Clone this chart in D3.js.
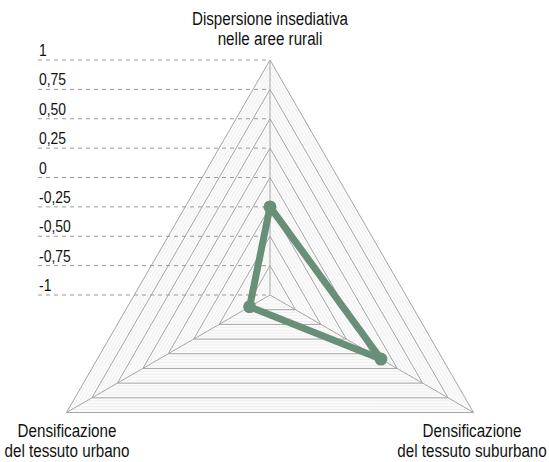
<!DOCTYPE html>
<html>
<head>
<meta charset="utf-8">
<script src="https://cdn.jsdelivr.net/npm/d3@7"></script>
<style>
  body { margin: 0; background: #fff; }
  text { font-family: "Liberation Sans Narrow", "Arial Narrow", "Liberation Sans", Arial, sans-serif; fill: #111; }
</style>
</head>
<body>
<script>
'use strict';

const axes = ['rural', 'suburban', 'urban'];
const axisLabels = [
  ['Dispersione insediativa', 'nelle aree rurali'],
  ['Densificazione', 'del tessuto suburbano'],
  ['Densificazione', 'del tessuto urbano'],
];
const values = [-0.25, 0.09, -0.8];
const levels = [1, 0.75, 0.5, 0.25, 0, -0.25, -0.5, -0.75, -1];
const tickLabels = ['1', '0,75', '0,50', '0,25', '0', '-0,25', '-0,50', '-0,75', '-1'];

const width = 549, height = 462;
const cx = 270, cy = 295, R = 235;
const squeeze = 0.8; // no narrow font installed, so condense the regular one

const svg = d3.select('body').append('svg')
  .attr('width', width)
  .attr('height', height);

const r = d3.scaleLinear().domain([-1, 1]).range([0, R]);
const angle = i => -Math.PI / 2 + i * 2 * Math.PI / axes.length;
const pt = (i, v) => [cx + r(v) * Math.cos(angle(i)), cy + r(v) * Math.sin(angle(i))];
const tri = v => axes.map((a, i) => pt(i, v));
const line = d3.line().curve(d3.curveLinearClosed);

// light fill + fine hatching between levels
svg.append('path').attr('d', line(tri(1))).attr('fill', '#fbfbfb');
const sub = d3.range(-1, 1.0001, 0.05);
svg.append('g').selectAll('path').data(sub).join('path')
  .attr('d', d => line(tri(d)))
  .attr('fill', 'none')
  .attr('stroke', '#e8e8e8')
  .attr('stroke-width', 0.6);

// level triangles
svg.append('g').selectAll('path').data(levels.filter(d => d > -1)).join('path')
  .attr('d', d => line(tri(d)))
  .attr('fill', 'none')
  .attr('stroke', '#a6a6a6')
  .attr('stroke-width', 1);

// spokes
svg.append('g').selectAll('line').data(axes).join('line')
  .attr('x1', cx).attr('y1', cy)
  .attr('x2', (d, i) => pt(i, 1)[0])
  .attr('y2', (d, i) => pt(i, 1)[1])
  .attr('stroke', '#a6a6a6')
  .attr('stroke-width', 1);

// dashed reference lines and tick labels
const ticks = svg.append('g');
ticks.selectAll('line').data(levels).join('line')
  .attr('x1', 38).attr('x2', cx)
  .attr('y1', d => cy - r(d)).attr('y2', d => cy - r(d))
  .attr('stroke', '#9a9a9a')
  .attr('stroke-width', 1)
  .attr('stroke-dasharray', '4,4');
ticks.selectAll('text').data(levels).join('text')
  .attr('transform', d => `translate(39,${cy - r(d) - 4}) scale(0.82,1)`)
  .attr('font-size', 17)
  .text((d, i) => tickLabels[i]);

// data
const dataPts = values.map((v, i) => pt(i, v));
svg.append('path')
  .attr('d', line(dataPts))
  .attr('fill', 'none')
  .attr('stroke', '#6a8f79')
  .attr('stroke-width', 7)
  .attr('stroke-linejoin', 'round');
svg.append('g').selectAll('circle').data(dataPts).join('circle')
  .attr('cx', d => d[0]).attr('cy', d => d[1])
  .attr('r', 6.5)
  .attr('fill', '#6a8f79');

// axis labels
const labelPos = [[270, 25], [472, 437], [67, 437]];
axisLabels.forEach((lines, i) => {
  const t = svg.append('text')
    .attr('transform', `translate(${labelPos[i][0]},${labelPos[i][1]}) scale(${squeeze},1)`)
    .attr('text-anchor', 'middle')
    .attr('font-size', 19);
  lines.forEach((s, j) => {
    t.append('tspan')
      .attr('x', 0)
      .attr('y', j * 20.5)
      .text(s);
  });
});
</script>
</body>
</html>
